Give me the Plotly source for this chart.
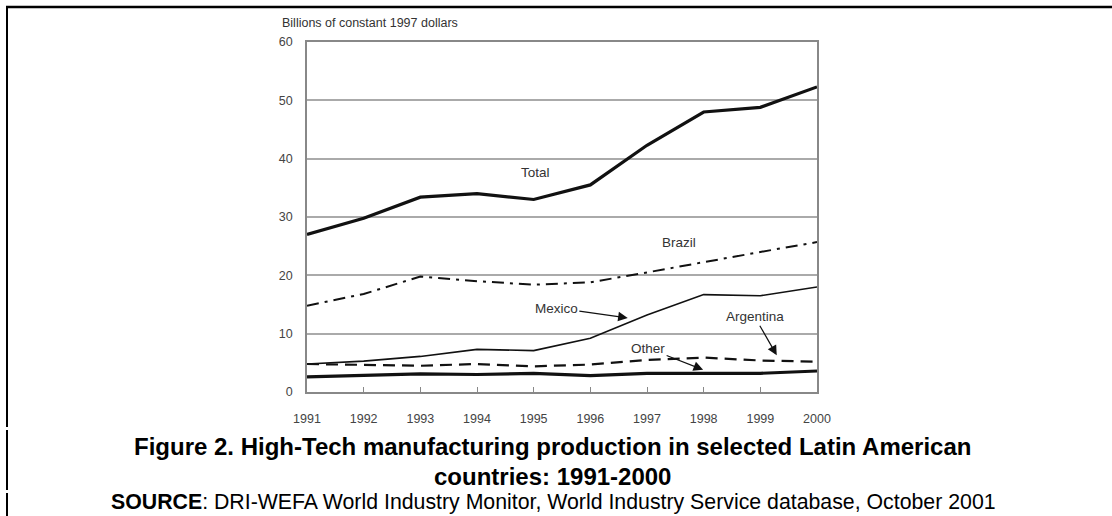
import plotly.graph_objects as go

years = [1991, 1992, 1993, 1994, 1995, 1996, 1997, 1998, 1999, 2000]
total = [27.0, 29.8, 33.4, 34.0, 33.0, 35.5, 42.3, 48.0, 48.8, 52.3]
brazil = [14.8, 16.8, 19.8, 19.0, 18.4, 18.8, 20.5, 22.3, 24.0, 25.7]
mexico = [4.8, 5.3, 6.1, 7.3, 7.1, 9.2, 13.2, 16.7, 16.5, 18.0]
argentina = [4.8, 4.7, 4.5, 4.8, 4.4, 4.7, 5.5, 5.9, 5.4, 5.2]
other = [2.6, 2.9, 3.1, 3.0, 3.2, 2.8, 3.2, 3.2, 3.2, 3.6]
y_ticks = [0, 10, 20, 30, 40, 50, 60]

W, H = 1112, 516
L, R, T, B = 307, 817, 42, 392

NARROW = "Liberation Sans Narrow, Arial Narrow, Liberation Sans, Arial, sans-serif"
BOLDF = "Arial, Liberation Sans, sans-serif"

fig = go.Figure()
fig.add_trace(go.Scatter(x=years, y=total, mode="lines", line=dict(color="#111", width=3.2)))
fig.add_trace(go.Scatter(x=years, y=brazil, mode="lines", line=dict(color="#111", width=2, dash="12px,6px,3px,6px")))
fig.add_trace(go.Scatter(x=years, y=mexico, mode="lines", line=dict(color="#111", width=1.6)))
fig.add_trace(go.Scatter(x=years, y=argentina, mode="lines", line=dict(color="#111", width=2.2, dash="12px,7px")))
fig.add_trace(go.Scatter(x=years, y=other, mode="lines", line=dict(color="#111", width=3.2)))

afont = dict(family=NARROW, size=13.5, color="#333")
fig.add_annotation(x=1995.04, y=37.7, text="Total", showarrow=False, font=afont)
fig.add_annotation(x=1997.56, y=25.7, text="Brazil", showarrow=False, font=afont)
fig.add_annotation(x=1996.66, y=12.7, ax=1995.4, ay=14.4, axref="x", ayref="y", text="Mexico",
                   showarrow=True, arrowhead=2, arrowsize=1.6, arrowwidth=1.2, arrowcolor="#111", font=afont)
fig.add_annotation(x=1997.99, y=3.8, ax=1997.02, ay=7.5, axref="x", ayref="y", text="Other",
                   showarrow=True, arrowhead=2, arrowsize=1.6, arrowwidth=1.2, arrowcolor="#111", font=afont)
fig.add_annotation(x=1999.29, y=6.3, ax=1998.9, ay=12.9, axref="x", ayref="y", text="Argentina",
                   showarrow=True, arrowhead=2, arrowsize=1.6, arrowwidth=1.2, arrowcolor="#111", font=afont)

def px_x(p):
    return (p - L) / (R - L)

def px_y(p):
    return (B - p) / (B - T)

# y-axis title
fig.add_annotation(xref="paper", yref="paper", x=px_x(280), y=px_y(23), xanchor="left", yanchor="middle",
                   text="Billions of constant 1997 dollars", showarrow=False,
                   font=dict(family=NARROW, size=12.5, color="#333"))
# figure caption
fig.add_annotation(xref="paper", yref="paper", x=px_x(552), y=px_y(447), xanchor="center", yanchor="middle",
                   text="<b>Figure 2. High-Tech manufacturing production in selected Latin American</b>",
                   showarrow=False, font=dict(family=BOLDF, size=24, color="#000"))
fig.add_annotation(xref="paper", yref="paper", x=px_x(552), y=px_y(476), xanchor="center", yanchor="middle",
                   text="<b>countries: 1991-2000</b>",
                   showarrow=False, font=dict(family=BOLDF, size=24, color="#000"))
fig.add_annotation(xref="paper", yref="paper", x=px_x(553), y=px_y(502), xanchor="center", yanchor="middle",
                   text="<b>SOURCE</b>: DRI-WEFA World Industry Monitor, World Industry Service database, October 2001",
                   showarrow=False, font=dict(family=BOLDF, size=21.3, color="#000"))

# page borders
fig.add_shape(type="line", xref="paper", yref="paper", x0=px_x(6), x1=px_x(1112), y0=px_y(7), y1=px_y(7),
              line=dict(color="#000", width=2.5))
for y0, y1 in [(7, 427), (430, 490), (493, 516)]:
    fig.add_shape(type="line", xref="paper", yref="paper", x0=px_x(7), x1=px_x(7), y0=px_y(y0), y1=px_y(y1),
                  line=dict(color="#000", width=2))

fig.update_layout(
    width=W, height=H,
    margin=dict(l=L, r=W - R, t=T, b=H - B, pad=0),
    paper_bgcolor="white", plot_bgcolor="white",
    showlegend=False,
    font=dict(family=NARROW, size=12.5, color="#333"),
)
fig.update_xaxes(range=[1991, 2000], tickvals=years, ticktext=[str(y) for y in years],
                 showgrid=False, zeroline=False, showline=True, linecolor="#888", linewidth=1.5, mirror=True,
                 ticks="inside", ticklen=5, tickcolor="#888", ticklabelstandoff=14,
                 tickfont=dict(family=NARROW, size=12.5, color="#444"))
fig.update_yaxes(range=[0, 60], tickvals=y_ticks, showgrid=True, gridcolor="#aaa", gridwidth=1.5,
                 zeroline=False, showline=True, linecolor="#888", linewidth=1.5, mirror=True,
                 ticks="", ticklabelstandoff=10, tickfont=dict(family=NARROW, size=12.5, color="#444"))

fig.write_html("out.html", config={"displayModeBar": False},
               post_script="document.body.style.margin='0';document.body.style.padding='0';")
